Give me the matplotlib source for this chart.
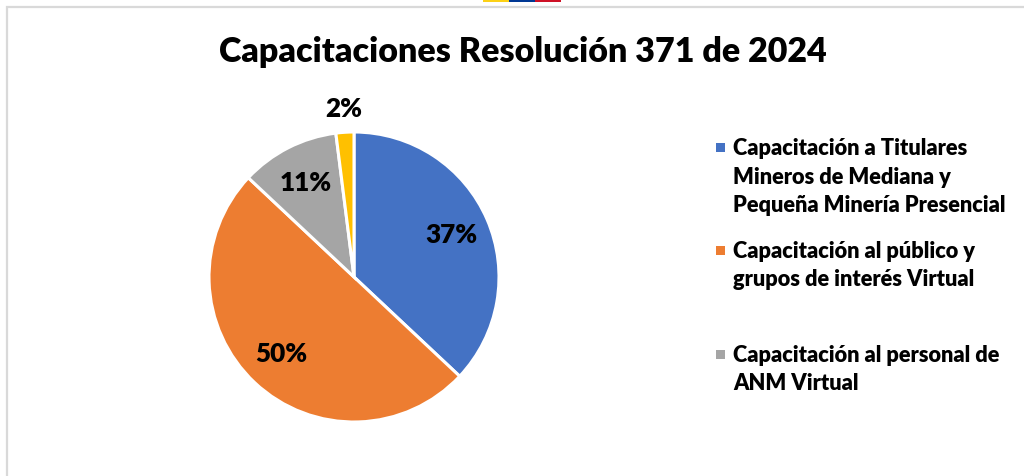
import matplotlib.pyplot as plt
from matplotlib.patches import Rectangle
import numpy as np

# datos
valores = [37, 50, 11, 2]
colores = ['#4472C4', '#ED7D31', '#A5A5A5', '#FFC000']
etiquetas = ['Capacitación a Titulares\nMineros de Mediana y\nPequeña Minería Presencial',
             'Capacitación al público y\ngrupos de interés Virtual',
             'Capacitación al personal de\nANM Virtual']
titulo = 'Capacitaciones Resolución 371 de 2024'

plt.rcParams['font.family'] = ['Lato', 'DejaVu Sans']

W, H = 1024, 476
fig = plt.figure(figsize=(W / 100, H / 100), dpi=100)

# marco gris del grafico (sale por la derecha y abajo)
fig.patches.append(Rectangle((7 / W, -0.1), 1.2, 1 - 7 / H + 0.1, transform=fig.transFigure,
                             fill=False, edgecolor='#D9D9D9', linewidth=1.6))
# franja de la bandera arriba
for i, c in enumerate(['#FCD116', '#003893', '#CE1126']):
    fig.patches.append(Rectangle(((483 + i * 26) / W, 1 - 2 / H), 26 / W, 2 / H,
                                 transform=fig.transFigure, color=c, linewidth=0))

cx, cy, r = 354, 476 - 277, 145
ax = fig.add_axes([(cx - r) / W, (cy - r) / H, 2 * r / W, 2 * r / H])
wedges, texts, autotexts = ax.pie(valores, colors=colores, startangle=90, counterclock=False,
                                  autopct='%1.0f%%', pctdistance=0.73,
                                  wedgeprops=dict(edgecolor='white', linewidth=2.2),
                                  textprops=dict(fontsize=18.8, fontweight='heavy', color='black'))
ax.set_xlim(-1, 1)
ax.set_ylim(-1, 1)
ax.set_aspect('equal')

# la etiqueta del 2% va por fuera
w = wedges[3]
ang = np.deg2rad((w.theta1 + w.theta2) / 2)
autotexts[3].set_position((1.16 * np.cos(ang), 1.16 * np.sin(ang)))

fig.text(523 / W, 1 - 52 / H, titulo, ha='center', va='center', fontsize=24.5, fontweight='heavy')

# leyenda (solo tres entradas visibles), dibujada a mano
base_y = [155, 258, 362]
for i in range(3):
    y0 = base_y[i]
    fig.patches.append(Rectangle((716 / W, 1 - (y0 - 3) / H), 9 / W, 9 / H,
                                 transform=fig.transFigure, color=wedges[i].get_facecolor(),
                                 linewidth=0))
    for j, linea in enumerate(etiquetas[i].split('\n')):
        fig.text(733 / W, 1 - (y0 + j * 28.5) / H, linea, ha='left', va='baseline',
                 fontsize=15.7, fontweight='heavy')

fig.savefig('out.png', dpi=100)
